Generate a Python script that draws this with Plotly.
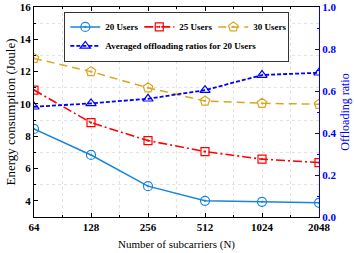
import numpy as np
import plotly.graph_objects as go

subcarriers = [64, 128, 256, 512, 1024, 2048]
tick_labels = ["64", "128", "256", "512", "1024", "2048"]
energy_20 = [8.45, 6.84, 4.91, 4.00, 3.94, 3.88]
energy_25 = [10.86, 8.84, 7.73, 7.05, 6.58, 6.37]
energy_30 = [12.82, 12.00, 11.00, 10.18, 10.04, 9.98]
offload_20 = [0.525, 0.541, 0.563, 0.604, 0.676, 0.687]

x = np.log2(subcarriers)
FONT = "Liberation Serif"
LW = 29

fig = go.Figure()
fig.add_trace(go.Scatter(x=x, y=energy_20, name="<b>20 Users</b>", mode="lines+markers", legendwidth=LW,
                         line=dict(color="#1A85D6", width=1.5, dash="solid"),
                         marker=dict(symbol="circle-open-dot", size=9, color="#1A85D6", line=dict(width=1.2))))
fig.add_trace(go.Scatter(x=x, y=energy_25, name="<b>25 Users</b>", mode="lines+markers", legendwidth=LW,
                         line=dict(color="#FF0000", width=1.6, dash="9px,3px,2px,3px"),
                         marker=dict(symbol="square-open-dot", size=8, color="#FF0000", line=dict(width=1.2))))
fig.add_trace(go.Scatter(x=x, y=energy_30, name="<b>30 Users</b>", mode="lines+markers", legendwidth=LW,
                         line=dict(color="#DAA520", width=1.5, dash="8px,5px"),
                         marker=dict(symbol="pentagon-open-dot", size=10, color="#DAA520", line=dict(width=1.2))))
fig.add_trace(go.Scatter(x=x, y=offload_20, name="<b>Averaged offloading ratios for 20 Users</b>",
                         mode="lines+markers", yaxis="y2", legendwidth=LW,
                         line=dict(color="#0000FF", width=1.8, dash="4px,2px"),
                         marker=dict(symbol="triangle-up-open", size=9, color="#0000FF", line=dict(width=1.2))))

fig.update_layout(
    template="none",
    width=354, height=253,
    margin=dict(l=34, r=35, t=7, b=36, autoexpand=False),
    paper_bgcolor="white", plot_bgcolor="white",
    font=dict(family=FONT, size=11, color="black"),
    showlegend=True,
    legend=dict(orientation="h", x=0.5, xanchor="center", y=0.978, yanchor="top",
                bgcolor="white", bordercolor="black", borderwidth=0.8,
                font=dict(family=FONT, size=9, color="black"),
                itemwidth=30, tracegroupgap=0, traceorder="normal"),
    xaxis=dict(range=[x[0], x[-1]], tickmode="array", tickvals=x, ticktext=[f"<b>{t}</b>" for t in tick_labels],
               ticks="inside", ticklen=4, tickcolor="black", showline=True, linecolor="black", linewidth=1,
               mirror="ticks", showgrid=False, zeroline=False, automargin=False,
               tickfont=dict(family=FONT, size=11),
               minor=dict(dtick=0.5, ticks="inside", ticklen=2, tickcolor="black", showgrid=True,
                          gridcolor="#E3E3E3", griddash="dot", gridwidth=1),
               title=dict(text="Number of subcarriers (N)", font=dict(family=FONT, size=11), standoff=8)),
    yaxis=dict(range=[3, 16], tick0=0, dtick=2, ticks="inside", ticklen=4, tickcolor="black",
               showline=True, linecolor="black", linewidth=1, showgrid=False, zeroline=False, automargin=False,
               tickfont=dict(family=FONT, size=11), tickprefix="<b>", ticksuffix="</b>",
               minor=dict(dtick=1, ticks="inside", ticklen=2, tickcolor="black", showgrid=True,
                          gridcolor="#E3E3E3", griddash="dot", gridwidth=1),
               title=dict(text="Energy consumption (Joule)", font=dict(family=FONT, size=13), standoff=1)),
    yaxis2=dict(range=[0, 1], dtick=0.2, tickformat=".1f", overlaying="y", side="right",
                ticks="inside", ticklen=4, tickcolor="#0000FF", showline=True, linecolor="#0000FF", linewidth=1,
                showgrid=False, zeroline=False, tickprefix="<b>", ticksuffix="</b>", automargin=False,
                tickfont=dict(family=FONT, size=11, color="#0000FF"),
                minor=dict(dtick=0.1, ticks="inside", ticklen=2, tickcolor="#0000FF"),
                title=dict(text="Offloading ratio", font=dict(family=FONT, size=12, color="#0000FF"), standoff=5)),
)

fig.write_html("out.html", config={"displayModeBar": False},
               post_script="document.body.style.margin='0px';")
